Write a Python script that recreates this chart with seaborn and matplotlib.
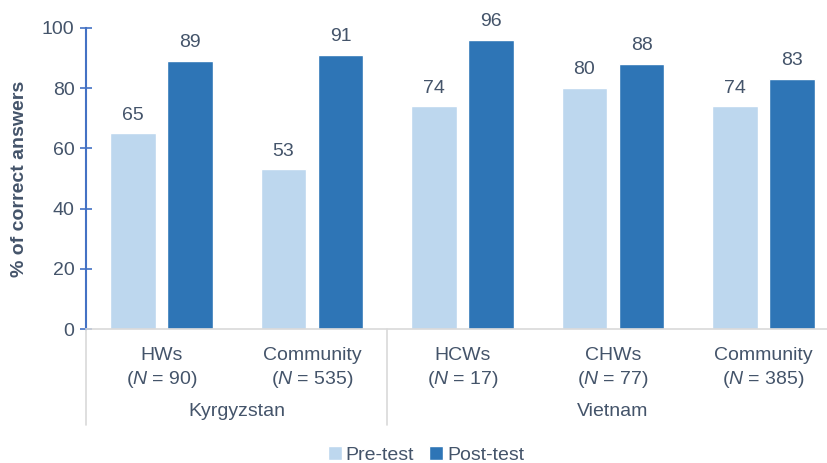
import matplotlib
matplotlib.use("Agg")
import matplotlib.pyplot as plt
import seaborn as sns
import pandas as pd
from matplotlib.transforms import blended_transform_factory

groups = ["HWs\n($\\mathit{N}$ = 90)", "Community\n($\\mathit{N}$ = 535)",
          "HCWs\n($\\mathit{N}$ = 17)", "CHWs\n($\\mathit{N}$ = 77)",
          "Community\n($\\mathit{N}$ = 385)"]
keys = ["g1", "g2", "g3", "g4", "g5"]
pre_test = [65, 53, 74, 80, 74]
post_test = [89, 91, 96, 88, 83]
countries = ["Kyrgyzstan", "Vietnam"]
yticks = [0, 20, 40, 60, 80, 100]

sns.set_theme(style="white")
plt.rcParams['font.family'] = ['Liberation Sans', 'DejaVu Sans']
plt.rcParams['mathtext.fontset'] = 'custom'
plt.rcParams['mathtext.rm'] = 'Liberation Sans'
plt.rcParams['mathtext.it'] = 'Liberation Sans:italic'

txt = '#44546A'
fs = 14
df = pd.DataFrame({
    "group": keys * 2,
    "value": pre_test + post_test,
    "test": ["Pre-test"] * 5 + ["Post-test"] * 5,
})

fig = plt.figure(figsize=(8.27, 4.63), dpi=100)
ax = fig.add_axes([86.25 / 827, 134 / 463, 752.5 / 827, 301 / 463])
sns.barplot(data=df, x="group", y="value", hue="test", order=keys,
            hue_order=["Pre-test", "Post-test"],
            palette=["#BDD7EE", "#2E75B6"], saturation=1,
            width=0.76, gap=0.2, ax=ax, legend=True)

for c in ax.containers:
    ax.bar_label(c, labels=[f"{int(v)}" for v in c.datavalues], padding=7,
                 fontsize=fs, color=txt)

ax.set_ylim(0, 100)
ax.set_xlim(-0.5, 4.5)
ax.set_yticks(yticks)
ax.set_yticklabels([str(t) for t in yticks], fontsize=fs, color=txt)
ax.set_xticks(range(5))
ax.set_xticklabels(groups, fontsize=fs, color=txt, linespacing=1.3)
ax.tick_params(axis='x', length=0, pad=13)
ax.tick_params(axis='y', left=True, direction='inout', length=9, width=1.2,
               color='#4472C4', pad=4)
ax.set_xlabel("")
ax.set_ylabel("% of correct answers", fontsize=fs, fontweight='bold',
              color=txt, labelpad=10)

for s in ['top', 'right']:
    ax.spines[s].set_visible(False)
ax.spines['left'].set_color('#4472C4')
ax.spines['left'].set_linewidth(1.5)
ax.spines['bottom'].set_color('#D9D9D9')
ax.spines['bottom'].set_linewidth(1.2)

trans = blended_transform_factory(ax.transData, ax.transAxes)
for xv in [-0.5, 1.5, 4.5]:
    ax.plot([xv, xv], [0, -96 / 301], transform=trans, color='#D9D9D9',
            lw=1.2, clip_on=False)
ax.text(0.5, -83 / 301, countries[0], transform=trans, ha='center',
        va='center', fontsize=fs, color=txt)
ax.text(3.0, -83 / 301, countries[1], transform=trans, ha='center',
        va='center', fontsize=fs, color=txt)

ax.legend(loc='center', bbox_to_anchor=(426 / 827, 8 / 463),
          bbox_transform=fig.transFigure, ncol=2, frameon=False,
          fontsize=fs, handlelength=0.7, handleheight=0.7,
          handletextpad=0.2, columnspacing=0.8, labelcolor=txt)

fig.savefig("out.png", dpi=100)
